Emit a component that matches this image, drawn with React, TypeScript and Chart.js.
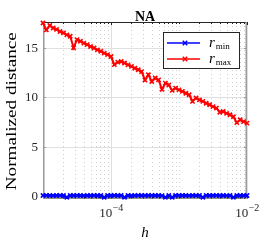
import React, { useEffect, useRef } from "react";
import { Chart, registerables } from "chart.js";

Chart.register(...registerables);

const hValues = [
  1.0e-5, 1.12e-5, 1.26e-5, 1.41e-5, 1.58e-5, 1.78e-5, 2.0e-5, 2.24e-5, 2.51e-5, 2.82e-5,
  3.16e-5, 3.55e-5, 3.98e-5, 4.47e-5, 5.01e-5, 5.62e-5, 6.31e-5, 7.08e-5, 7.94e-5, 8.91e-5,
  1.0e-4, 1.12e-4, 1.26e-4, 1.41e-4, 1.58e-4, 1.78e-4, 2.0e-4, 2.24e-4, 2.51e-4, 2.82e-4,
  3.16e-4, 3.55e-4, 3.98e-4, 4.47e-4, 5.01e-4, 5.62e-4, 6.31e-4, 7.08e-4, 7.94e-4, 8.91e-4,
  1.0e-3, 1.12e-3, 1.26e-3, 1.41e-3, 1.58e-3, 1.78e-3, 2.0e-3, 2.24e-3, 2.51e-3, 2.82e-3,
  3.16e-3, 3.55e-3, 3.98e-3, 4.47e-3, 5.01e-3, 5.62e-3, 6.31e-3, 7.08e-3, 7.94e-3, 8.91e-3,
  1.0e-2,
];

const rMaxValues = [
  17.5, 16.8, 17.25, 16.99, 16.85, 16.64, 16.5, 16.3, 16.16, 15.0,
  15.82, 15.66, 15.47, 15.32, 15.13, 14.98, 14.79, 14.65, 14.46, 14.31,
  14.12, 13.3, 13.55, 13.62, 13.47, 13.28, 13.13, 12.94, 12.79, 12.6,
  11.75, 12.28, 11.6, 11.95, 11.76, 10.8, 11.44, 11.25, 10.7, 10.93,
  10.75, 10.6, 10.41, 10.26, 9.6, 9.93, 9.74, 9.59, 9.4, 9.25,
  9.07, 8.92, 8.5, 8.58, 8.39, 8.24, 8.05, 7.45, 7.74, 7.55,
  7.4,
];

const rMinValues = [
  0.1, 0.11, 0.1, 0.09, 0.1, 0.11, 0.1, -0.08, 0.1, 0.1,
  0.11, 0.1, 0.09, 0.1, 0.1, 0.11, 0.1, 0.1, -0.08, 0.1,
  0.1, 0.11, 0.1, 0.1, -0.08, 0.1, 0.09, 0.1, 0.11, 0.1,
  0.1, 0.1, 0.11, 0.1, 0.1, 0.09, -0.08, 0.1, -0.08, 0.1,
  0.11, 0.1, 0.1, 0.09, 0.1, 0.1, 0.11, -0.08, 0.1, 0.1,
  0.1, 0.11, 0.1, 0.1, 0.09, 0.1, -0.08, 0.1, 0.11, 0.1,
  0.1,
];

const yTicks = [0, 5, 10, 15];
const xMajorExps = [-4, -2];
const titleText = "NA";
const yLabelText = "Normalized distance";
const xLabelText = "h";
const legendItems = [
  { base: "r", sub: "min", color: "#0000ff" },
  { base: "r", sub: "max", color: "#ff0000" },
];

const SERIF = "'Liberation Serif', 'DejaVu Serif', serif";

function drawCross(ctx: CanvasRenderingContext2D, cx: number, cy: number, r: number) {
  ctx.beginPath();
  ctx.moveTo(cx - r, cy - r);
  ctx.lineTo(cx + r, cy + r);
  ctx.moveTo(cx - r, cy + r);
  ctx.lineTo(cx + r, cy - r);
  ctx.stroke();
}

const matlabPlugin = {
  id: "matlabLook",
  beforeDatasetsDraw(chart: any) {
    const { ctx, chartArea: a, scales } = chart;
    const x = scales.x;
    const y = scales.y;
    ctx.save();
    // minor dotted x grid
    ctx.strokeStyle = "#cfcfcf";
    ctx.lineWidth = 1;
    ctx.setLineDash([1, 3]);
    const minorPx: number[] = [];
    for (let e = -6; e <= -2; e++) {
      for (let m = 1; m <= 9; m++) {
        const v = m * Math.pow(10, e);
        if (m === 1 && xMajorExps.includes(e)) continue;
        if (v <= x.min * 1.0001 || v >= x.max * 0.9999) continue;
        const px = Math.round(x.getPixelForValue(v)) + 0.5;
        minorPx.push(px);
        ctx.beginPath();
        ctx.moveTo(px, a.top);
        ctx.lineTo(px, a.bottom);
        ctx.stroke();
      }
    }
    ctx.setLineDash([]);
    // major grids
    ctx.strokeStyle = "#e0e0e0";
    ctx.lineWidth = 1;
    for (const e of xMajorExps) {
      const px = Math.round(x.getPixelForValue(Math.pow(10, e))) + 0.5;
      ctx.beginPath();
      ctx.moveTo(px, a.top);
      ctx.lineTo(px, a.bottom);
      ctx.stroke();
    }
    for (const t of yTicks) {
      const py = Math.round(y.getPixelForValue(t)) + 0.5;
      ctx.beginPath();
      ctx.moveTo(a.left, py);
      ctx.lineTo(a.right, py);
      ctx.stroke();
    }
    // box
    ctx.lineWidth = 1;
    ctx.strokeStyle = "#262626";
    ctx.beginPath();
    ctx.moveTo(a.left, a.top + 0.5);
    ctx.lineTo(a.right, a.top + 0.5);
    ctx.moveTo(a.left, a.bottom - 0.5);
    ctx.lineTo(a.right, a.bottom - 0.5);
    ctx.stroke();
    // tick marks x
    for (const px of minorPx) {
      ctx.beginPath();
      ctx.moveTo(px, a.top);
      ctx.lineTo(px, a.top + 2);
      ctx.moveTo(px, a.bottom);
      ctx.lineTo(px, a.bottom - 2);
      ctx.stroke();
    }
    for (const e of xMajorExps) {
      const px = Math.round(x.getPixelForValue(Math.pow(10, e))) + 0.5;
      ctx.beginPath();
      ctx.moveTo(px, a.top);
      ctx.lineTo(px, a.top + 3);
      ctx.moveTo(px, a.bottom);
      ctx.lineTo(px, a.bottom - 3);
      ctx.stroke();
    }
    ctx.strokeStyle = "#9a9a9a";
    ctx.lineWidth = 1.5;
    ctx.beginPath();
    ctx.moveTo(a.left + 0.75, a.top);
    ctx.lineTo(a.left + 0.75, a.bottom);
    ctx.moveTo(a.right - 0.75, a.top);
    ctx.lineTo(a.right - 0.75, a.bottom);
    ctx.stroke();
    ctx.lineWidth = 1;
    for (const t of yTicks) {
      const py = Math.round(y.getPixelForValue(t)) + 0.5;
      ctx.beginPath();
      ctx.moveTo(a.left, py);
      ctx.lineTo(a.left + 3, py);
      ctx.moveTo(a.right, py);
      ctx.lineTo(a.right - 3, py);
      ctx.stroke();
    }
    ctx.restore();
  },
  afterDatasetsDraw(chart: any) {
    const { ctx, chartArea: a, scales } = chart;
    const x = scales.x;
    const y = scales.y;
    ctx.save();
    ctx.fillStyle = "#262626";
    // y tick labels
    ctx.font = `13px ${SERIF}`;
    ctx.textAlign = "right";
    ctx.textBaseline = "middle";
    for (const t of yTicks) {
      ctx.fillText(String(t), a.left - 5, y.getPixelForValue(t) + 0.5);
    }
    // x tick labels with superscript
    for (const e of xMajorExps) {
      const px = x.getPixelForValue(Math.pow(10, e));
      ctx.font = `13px ${SERIF}`;
      const baseW = ctx.measureText("10").width;
      ctx.font = `10px ${SERIF}`;
      const expStr = "\u2212" + String(-e);
      const expW = ctx.measureText(expStr).width;
      const start = px - (baseW + expW) / 2;
      ctx.textAlign = "left";
      ctx.textBaseline = "alphabetic";
      ctx.font = `13px ${SERIF}`;
      ctx.fillText("10", start, 217);
      ctx.font = `10px ${SERIF}`;
      ctx.fillText(expStr, start + baseW + 0.5, 210.5);
    }
    // title
    ctx.fillStyle = "#000000";
    ctx.font = `bold 14px ${SERIF}`;
    ctx.textAlign = "center";
    ctx.textBaseline = "alphabetic";
    ctx.fillText(titleText, (a.left + a.right) / 2, 20.5);
    // x label
    ctx.font = `italic 15px ${SERIF}`;
    ctx.fillText(xLabelText, (a.left + a.right) / 2, 236.5);
    // y label
    ctx.save();
    ctx.translate(16, (a.top + a.bottom) / 2 + 1);
    ctx.rotate(-Math.PI / 2);
    ctx.font = `14px ${SERIF}`;
    const lw = ctx.measureText(yLabelText).width;
    const target = 158;
    ctx.scale(target / lw, 1);
    ctx.textAlign = "center";
    ctx.fillText(yLabelText, 0, 0);
    ctx.restore();
    // legend
    const bx = 163.5, by = 32.5, bw = 76, bh = 36;
    ctx.fillStyle = "#ffffff";
    ctx.fillRect(bx, by, bw, bh);
    ctx.strokeStyle = "#262626";
    ctx.lineWidth = 1;
    ctx.strokeRect(bx, by, bw, bh);
    legendItems.forEach((it, i) => {
      const ly = 43 + i * 16;
      ctx.strokeStyle = it.color;
      ctx.lineWidth = 1.5;
      ctx.beginPath();
      ctx.moveTo(167, ly);
      ctx.lineTo(200, ly);
      ctx.stroke();
      drawCross(ctx, 185, ly, 2.2);
      ctx.fillStyle = "#000000";
      ctx.textAlign = "left";
      ctx.textBaseline = "alphabetic";
      ctx.font = `italic 15px ${SERIF}`;
      ctx.fillText(it.base, 209, ly + 3.5);
      const rw = ctx.measureText(it.base).width;
      ctx.font = `9px ${SERIF}`;
      ctx.fillText(it.sub, 209 + rw + 1, ly + 6);
    });
    ctx.restore();
  },
};

export default function App() {
  const ref = useRef<HTMLCanvasElement>(null);
  useEffect(() => {
    if (!ref.current) return;
    const mk = (vals: number[]) => hValues.map((h, i) => ({ x: h, y: vals[i] }));
    const chart = new Chart(ref.current, {
      type: "line",
      data: {
        datasets: [
          {
            label: "r_min",
            data: mk(rMinValues),
            borderColor: "#0000ff",
            backgroundColor: "#0000ff",
            borderWidth: 2,
            pointStyle: "crossRot",
            pointRadius: 3,
            pointBorderWidth: 1.6,
            clip: false as any,
          },
          {
            label: "r_max",
            data: mk(rMaxValues),
            borderColor: "#ff0000",
            backgroundColor: "#ff0000",
            borderWidth: 2,
            pointStyle: "crossRot",
            pointRadius: 3,
            pointBorderWidth: 1.6,
            clip: false as any,
          },
        ],
      },
      options: {
        responsive: false,
        animation: false,
        devicePixelRatio: 1,
        events: [],
        layout: { padding: { left: 43, right: 19, top: 22, bottom: 42.5 } },
        plugins: {
          legend: { display: false },
          tooltip: { enabled: false },
          title: { display: false },
        },
        scales: {
          x: { type: "logarithmic", min: 1e-5, max: 1e-2, display: false },
          y: { type: "linear", min: -0.2, max: 17.6, display: false },
        },
      },
      plugins: [matlabPlugin],
    });
    return () => chart.destroy();
  }, []);
  return (
    <div style={{ position: "absolute", left: 0, top: 0, width: 266, height: 241, background: "#fff" }}>
      <canvas ref={ref} width={266} height={241} style={{ display: "block", width: 266, height: 241 }} />
    </div>
  );
}
